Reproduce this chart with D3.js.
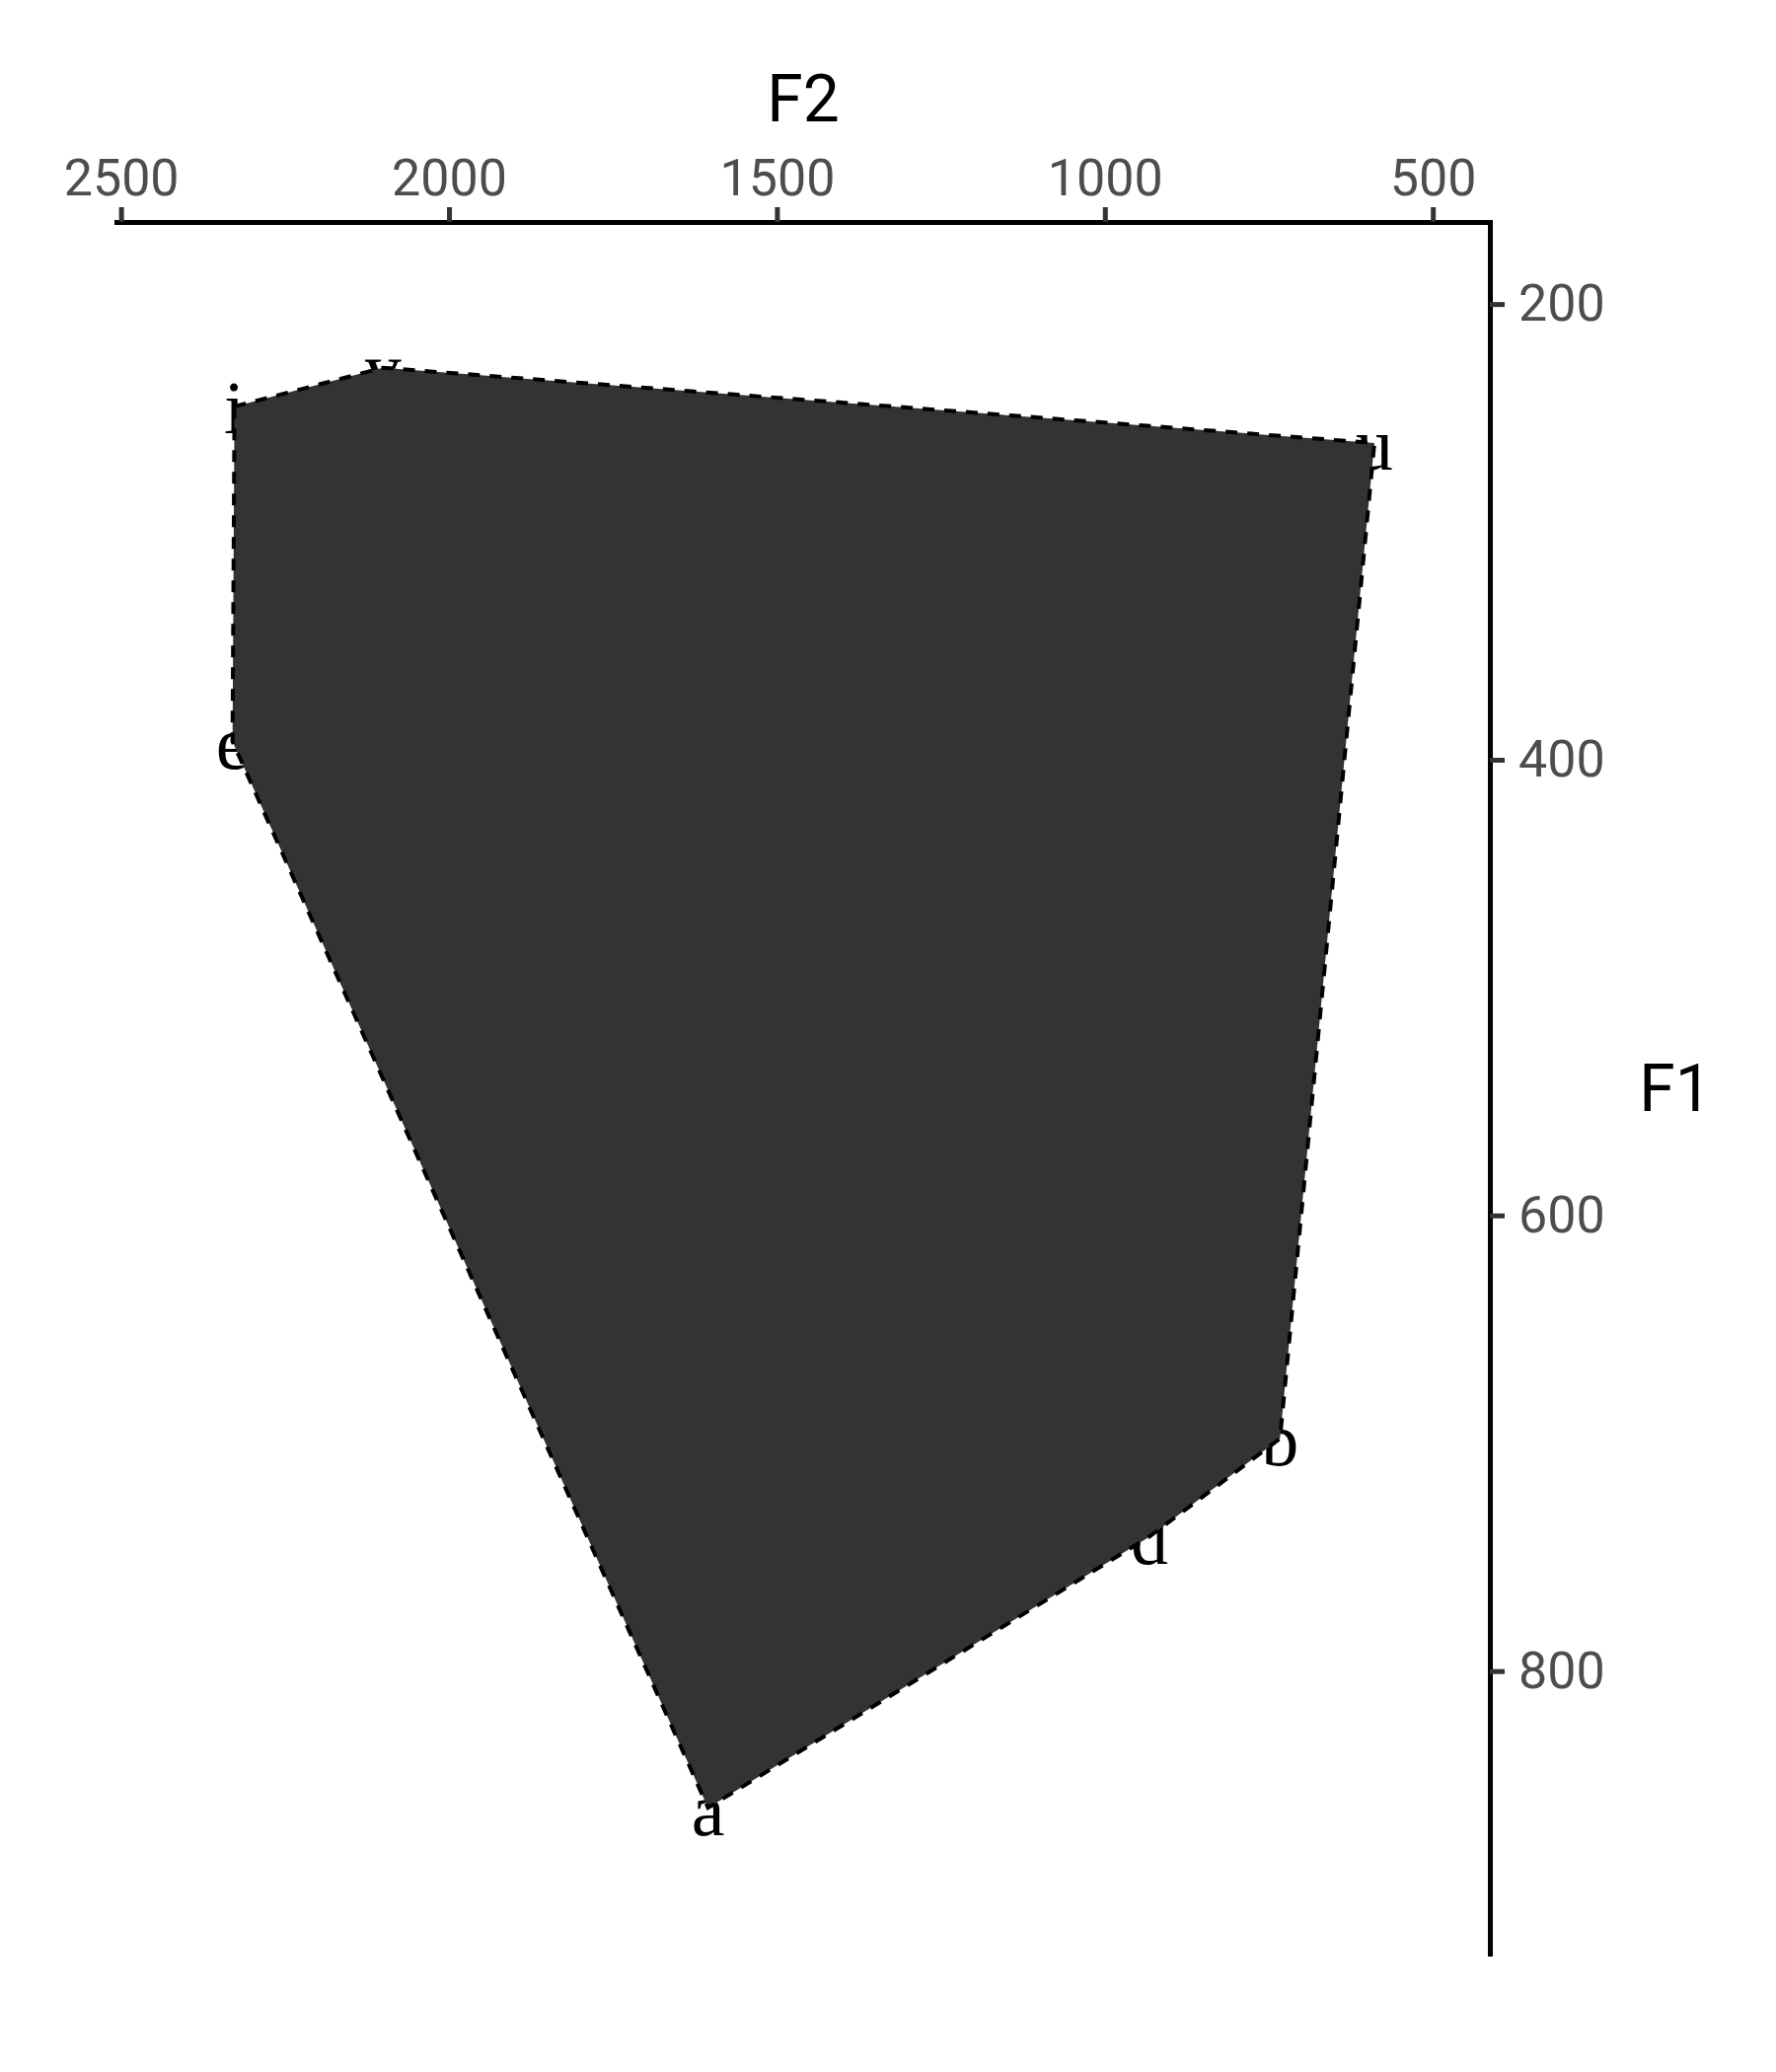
<!DOCTYPE html>
<html>
<head>
<meta charset="utf-8">
<script src="https://cdn.jsdelivr.net/npm/d3@7"></script>
<style>
  body { margin: 0; background: #fff; }
  svg { display: block; }
</style>
</head>
<body>
<div class="chart"></div>
<script>
// vowel space: formant means per vowel
var vowels = ['i', 'y', 'u', 'b', 'd', 'a', 'e'];
var f2 = [2327, 2101, 589, 733, 932, 1605, 2330];
var f1 = [245, 228, 261, 698, 741, 860, 392];

// axis limits and ticks as they appear on the chart
var f2Limits = [2507, 413];
var f1Limits = [164, 924];
var f2Ticks = [2500, 2000, 1500, 1000, 500];
var f1Ticks = [200, 400, 600, 800];

var width = 1800, height = 2100;
var margin = {top: 225, right: 290, bottom: 120, left: 118};
var innerW = width - margin.left - margin.right,
    innerH = height - margin.top - margin.bottom;

var svg = d3.select('.chart').append('svg')
    .attr('width', width)
    .attr('height', height);

var g = svg.append('g')
    .attr('transform', 'translate(' + margin.left + ',' + margin.top + ')');

var x = d3.scaleLinear().domain(f2Limits).range([0, innerW]);
var y = d3.scaleLinear().domain(f1Limits).range([0, innerH]);

var points = vowels.map(function(v, i) {
    return {vowel: v, f2: f2[i], f1: f1[i]};
});

// labels first, polygon is drawn over them
g.selectAll('text.vowel')
    .data(points)
    .enter()
    .append('text')
    .attr('class', 'vowel')
    .attr('x', function(d) { return x(d.f2); })
    .attr('y', function(d) { return y(d.f1); })
    .attr('dy', '0.36em')
    .attr('text-anchor', 'middle')
    .style('font-family', '"Liberation Serif", "Times New Roman", serif')
    .style('font-size', '76px')
    .style('fill', '#000')
    .text(function(d) { return d.vowel; });

var line = d3.line()
    .x(function(d) { return x(d.f2); })
    .y(function(d) { return y(d.f1); })
    .curve(d3.curveLinearClosed);

g.append('path')
    .datum(points)
    .attr('d', line)
    .attr('fill', '#333333')
    .attr('stroke', '#000')
    .attr('stroke-width', 4)
    .attr('stroke-dasharray', '12,10');

// top axis (F2)
var xAxis = g.append('g')
    .call(d3.axisTop(x).tickValues(f2Ticks).tickSizeOuter(0).tickSizeInner(15).tickPadding(12)
        .tickFormat(d3.format('d')));

// right axis (F1)
var yAxis = g.append('g')
    .attr('transform', 'translate(' + innerW + ',0)')
    .call(d3.axisRight(y).tickValues(f1Ticks).tickSizeOuter(0).tickSizeInner(15).tickPadding(14)
        .tickFormat(d3.format('d')));

[xAxis, yAxis].forEach(function(ax) {
    ax.select('.domain')
        .attr('stroke', '#000')
        .attr('stroke-width', 5)
        .attr('stroke-linecap', 'square');
    ax.selectAll('.tick line')
        .attr('stroke', '#333333')
        .attr('stroke-width', 5);
    ax.selectAll('.tick text')
        .attr('fill', '#4d4d4d')
        .style('font-family', 'Roboto, sans-serif')
        .style('font-size', '52px');
});

// axis titles
g.append('text')
    .attr('x', innerW / 2)
    .attr('y', -102)
    .attr('text-anchor', 'middle')
    .style('font-family', 'Roboto, sans-serif')
    .style('font-size', '66px')
    .style('fill', '#000')
    .text('F2');

g.append('text')
    .attr('x', innerW + 188)
    .attr('y', innerH / 2)
    .attr('dy', '0.35em')
    .attr('text-anchor', 'middle')
    .style('font-family', 'Roboto, sans-serif')
    .style('font-size', '66px')
    .style('fill', '#000')
    .text('F1');
</script>
</body>
</html>
